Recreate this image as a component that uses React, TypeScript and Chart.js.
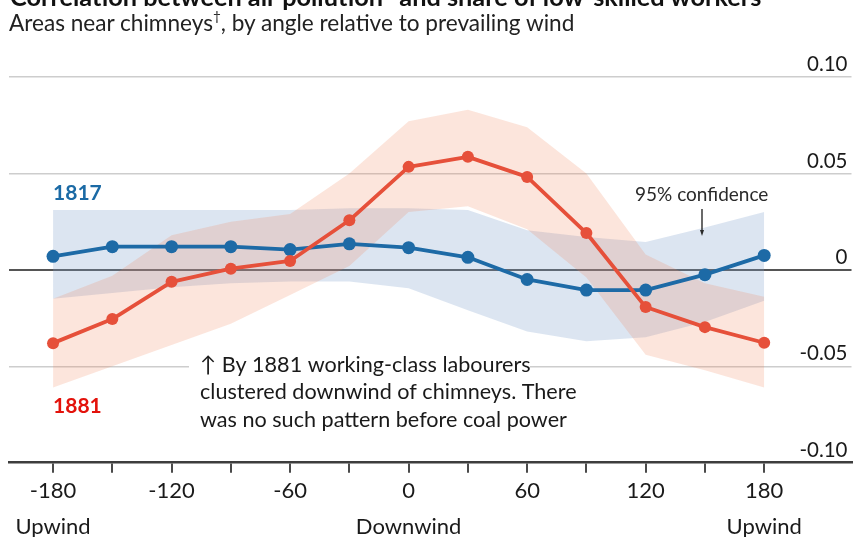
import { useEffect, useRef } from 'react';
import { Chart, registerables } from 'chart.js';

Chart.register(...registerables);

const FONT = 'Lato, "Noto Sans", sans-serif';

// Angle relative to prevailing wind, degrees
const angles = [-180, -150, -120, -90, -60, -30, 0, 30, 60, 90, 120, 150, 180];

// Correlation coefficients by year
const share1817 = [0.007, 0.012, 0.012, 0.012, 0.0105, 0.0135, 0.0115, 0.0065, -0.005, -0.0105, -0.0105, -0.0025, 0.0075];
const share1881 = [-0.038, -0.0255, -0.0062, 0.0006, 0.0046, 0.0257, 0.0534, 0.0586, 0.0482, 0.0191, -0.0193, -0.0297, -0.0378];

// 95% confidence bands
const ci1817Upper = [0.031, 0.031, 0.031, 0.031, 0.031, 0.032, 0.032, 0.031, 0.0205, 0.017, 0.0145, 0.022, 0.03];
const ci1817Lower = [-0.015, -0.012, -0.009, -0.007, -0.006, -0.006, -0.0095, -0.021, -0.032, -0.037, -0.035, -0.027, -0.016];
const ci1881Upper = [-0.015, -0.003, 0.018, 0.025, 0.029, 0.05, 0.077, 0.083, 0.074, 0.05, 0.008, -0.007, -0.014];
const ci1881Lower = [-0.061, -0.05, -0.039, -0.028, -0.013, 0.002, 0.03, 0.033, 0.021, -0.004, -0.044, -0.052, -0.061];

// Axis ticks
const xTickValues = [-180, -150, -120, -90, -60, -30, 0, 30, 60, 90, 120, 150, 180];
const xTickLabels: (string | string[])[] = [
  ['-180', 'Upwind'], '', '-120', '', '-60', '', ['0', 'Downwind'], '', '60', '', '120', '', ['180', 'Upwind'],
];
const yTickValues = [0.1, 0.05, 0, -0.05, -0.1];
const yTickLabels = ['0.10', '0.05', '0', '-0.05', '-0.10'];

const noteLines = [
  '↑ By 1881 working-class labourers',
  'clustered downwind of chimneys. There',
  'was no such pattern before coal power',
];

const BLUE = '#1d6aa6';
const RED = '#e6503a';
const BLUE_LABEL = '#1b6aa5';
const RED_LABEL = '#e3120b';
const BLUE_BAND = 'rgba(125, 160, 205, 0.27)';
const RED_BAND = 'rgba(240, 130, 90, 0.21)';

const pts = (ys: number[]) => angles.map((a, i) => ({ x: a, y: ys[i] }));

const overlay = {
  id: 'overlay',
  beforeDatasetsDraw(chart: any) {
    const { ctx } = chart;
    const y = chart.scales.y.getPixelForValue(-0.05);
    ctx.save();
    ctx.fillStyle = '#ffffff';
    ctx.fillRect(189, y - 4, 341, 8);
    ctx.restore();
  },
  afterDraw(chart: any) {
    const { ctx, chartArea } = chart;
    const x = chart.scales.x;
    const y = chart.scales.y;
    ctx.save();

    // value labels sitting above each horizontal rule
    ctx.font = `20.5px ${FONT}`;
    ctx.fillStyle = '#1a1a1a';
    ctx.textAlign = 'right';
    ctx.textBaseline = 'middle';
    yTickValues.forEach((v, i) => {
      ctx.fillText(yTickLabels[i], chartArea.right - 4, y.getPixelForValue(v) - 12.5);
    });

    // series names
    ctx.textAlign = 'left';
    ctx.font = `bold 21px ${FONT}`;
    ctx.fillStyle = BLUE_LABEL;
    ctx.fillText('1817', x.getPixelForValue(-180), 193.5);
    ctx.fillStyle = RED_LABEL;
    ctx.fillText('1881', x.getPixelForValue(-180), 406.5);

    // confidence note with pointer
    ctx.font = `19px ${FONT}`;
    ctx.fillStyle = '#2a2a2a';
    ctx.fillText('95% confidence', 635, 195);
    ctx.strokeStyle = '#2a2a2a';
    ctx.lineWidth = 1.4;
    ctx.beginPath();
    ctx.moveTo(702, 209);
    ctx.lineTo(702, 233);
    ctx.stroke();
    ctx.beginPath();
    ctx.moveTo(700, 230);
    ctx.lineTo(704, 230);
    ctx.lineTo(702, 236);
    ctx.closePath();
    ctx.fillStyle = '#2a2a2a';
    ctx.fill();

    // explanatory note
    ctx.font = `21.6px ${FONT}`;
    ctx.fillStyle = '#1a1a1a';
    noteLines.forEach((line, i) => {
      ctx.fillText(line, 200, 365 + i * 27.5);
    });

    ctx.restore();
  },
};

export default function App() {
  const canvasRef = useRef<HTMLCanvasElement | null>(null);

  useEffect(() => {
    const canvas = canvasRef.current;
    if (!canvas) return;
    const chart = new Chart(canvas, {
      type: 'line',
      data: {
        datasets: [
          {
            label: '1881',
            data: pts(share1881),
            borderColor: RED,
            backgroundColor: RED,
            pointBackgroundColor: RED,
            pointBorderWidth: 0,
            pointRadius: 6,
            borderWidth: 3.8,
            fill: false,
            order: 0,
          },
          {
            label: '1817',
            data: pts(share1817),
            borderColor: BLUE,
            backgroundColor: BLUE,
            pointBackgroundColor: BLUE,
            pointBorderWidth: 0,
            pointRadius: 6.5,
            borderWidth: 3.8,
            fill: false,
            order: 0,
          },
          {
            label: '1881 upper',
            data: pts(ci1881Upper),
            borderWidth: 0,
            pointRadius: 0,
            backgroundColor: RED_BAND,
            fill: '+1',
            order: 1,
          },
          {
            label: '1881 lower',
            data: pts(ci1881Lower),
            borderWidth: 0,
            pointRadius: 0,
            fill: false,
            order: 1,
          },
          {
            label: '1817 upper',
            data: pts(ci1817Upper),
            borderWidth: 0,
            pointRadius: 0,
            backgroundColor: BLUE_BAND,
            fill: '+1',
            order: 2,
          },
          {
            label: '1817 lower',
            data: pts(ci1817Lower),
            borderWidth: 0,
            pointRadius: 0,
            fill: false,
            order: 2,
          },
        ],
      },
      options: {
        animation: false,
        responsive: false,
        devicePixelRatio: 1,
        events: [],
        layout: { padding: { left: 9, right: 3, top: 77, bottom: 0 } },
        elements: { line: { borderJoinStyle: 'round', borderCapStyle: 'round', tension: 0 } },
        plugins: { legend: { display: false }, tooltip: { enabled: false } },
        scales: {
          x: {
            type: 'linear',
            min: -202.3,
            max: 224.2,
            afterBuildTicks: (s: any) => {
              s.ticks = xTickValues.map((v) => ({ value: v }));
            },
            afterFit: (s: any) => {
              s.height = 74.3;
            },
            ticks: {
              autoSkip: false,
              maxRotation: 0,
              padding: 0,
              color: '#1a1a1a',
              font: { family: FONT, size: 22, lineHeight: 36 / 22 },
              callback: (v: any) => {
                const i = xTickValues.indexOf(Number(v));
                return i >= 0 ? xTickLabels[i] : '';
              },
            },
            grid: { drawOnChartArea: false, drawTicks: true, tickLength: 10, color: '#4a4a4a', lineWidth: 2 },
            border: { display: true, color: '#3d3d3d', width: 2.5 },
          },
          y: {
            type: 'linear',
            min: -0.1,
            max: 0.1,
            afterBuildTicks: (s: any) => {
              s.ticks = yTickValues.map((v) => ({ value: v }));
            },
            afterFit: (s: any) => {
              s.width = 0;
            },
            ticks: { display: false },
            grid: {
              drawTicks: false,
              color: (c: any) => {
                const v = c.tick ? c.tick.value : null;
                if (v === 0) return '#555555';
                if (v === -0.1) return 'rgba(0,0,0,0)';
                return '#cdcdcd';
              },
              lineWidth: (c: any) => (c.tick && c.tick.value === 0 ? 2 : 1.5),
            },
            border: { display: false },
          },
        },
      },
      plugins: [overlay],
    });
    return () => chart.destroy();
  }, []);

  return (
    <div
      style={{
        position: 'fixed',
        left: 0,
        top: 0,
        width: 858,
        height: 537,
        background: '#ffffff',
        overflow: 'hidden',
      }}
    >
      <canvas ref={canvasRef} width={858} height={537} style={{ position: 'absolute', left: 0, top: 0 }} />
      <div
        style={{
          position: 'absolute',
          left: 10,
          top: -19,
          font: `bold 25.3px/30px ${FONT}`,
          color: '#111111',
          whiteSpace: 'nowrap',
        }}
      >
        Correlation between air pollution* and share of low-skilled workers
      </div>
      <div
        style={{
          position: 'absolute',
          left: 9,
          top: 9,
          font: `22.6px/28px ${FONT}`,
          color: '#222222',
          whiteSpace: 'nowrap',
        }}
      >
        Areas near chimneys
        <span style={{ fontSize: '0.6em', position: 'relative', top: '-0.75em' }}>†</span>, by angle relative to
        prevailing wind
      </div>
    </div>
  );
}
